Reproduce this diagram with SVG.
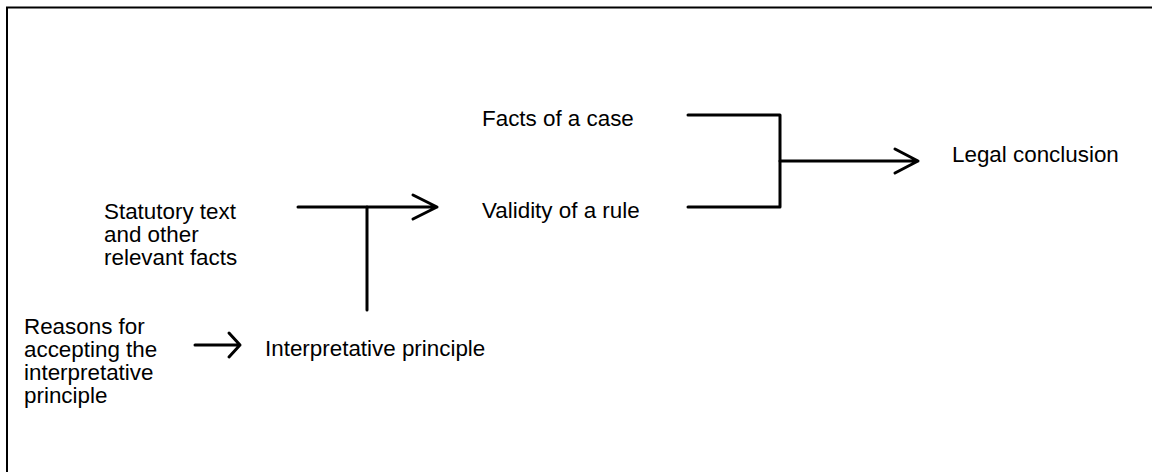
<svg xmlns="http://www.w3.org/2000/svg" width="1152" height="472" viewBox="0 0 1152 472">
  <style>
    text { font-family: "Liberation Sans", Arial, sans-serif; font-size: 22.4px; fill: #000; }
    .wire { fill: none; stroke: #000; stroke-width: 3; stroke-linecap: round; stroke-linejoin: round; }
  </style>
  <rect x="0" y="0" width="1152" height="472" fill="#fff"/>
  <!-- frame: only top and left edges fall inside the canvas -->
  <rect x="7" y="7.5" width="1200" height="500" fill="none" stroke="#000" stroke-width="2"/>

  <g id="statutory-text">
    <text x="104" y="219">Statutory text</text>
    <text x="104" y="242">and other</text>
    <text x="104" y="265">relevant facts</text>
  </g>
  <g id="reasons">
    <text x="24" y="334">Reasons for</text>
    <text x="24" y="357">accepting the</text>
    <text x="24" y="380">interpretative</text>
    <text x="24" y="403">principle</text>
  </g>
  <g id="interpretative-principle">
    <text x="265" y="356">Interpretative principle</text>
  </g>
  <g id="facts-of-case">
    <text x="482" y="126">Facts of a case</text>
  </g>
  <g id="validity-of-rule">
    <text x="482" y="218">Validity of a rule</text>
  </g>
  <g id="legal-conclusion">
    <text x="952" y="162">Legal conclusion</text>
  </g>

  <g id="connectors">
    <!-- statutory text + interpretative principle -> validity of a rule -->
    <path class="wire" d="M298 207 H437 M413 195 L437 207 L413 219"/>
    <path class="wire" d="M367 207 V310"/>
    <!-- reasons -> interpretative principle -->
    <path class="wire" d="M195 345 H240 M229 333 L240 345 L229 357"/>
    <!-- facts + validity -> legal conclusion -->
    <path class="wire" d="M688 115 H780 V207 H688"/>
    <path class="wire" d="M780 161 H918 M895 149 L918 161 L895 173"/>
  </g>
</svg>
